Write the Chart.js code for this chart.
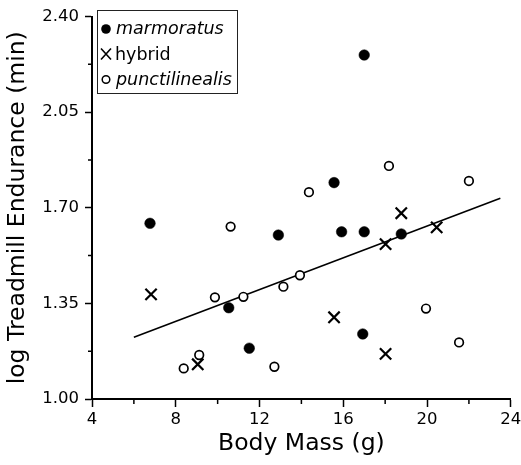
<!DOCTYPE html>
<html>
<head>
<meta charset="utf-8">
<script src="https://cdn.jsdelivr.net/npm/chart.js@4.4.1/dist/chart.umd.min.js"></script>
<style>
  body { margin: 0; background: #fff; }
</style>
</head>
<body>
<canvas id="enduranceChart" width="521" height="465"></canvas>
<script>
// body mass (g) / log endurance (min)
var marmMass = [6.77, 10.53, 11.51, 12.90, 15.56, 15.92, 16.93, 17.00, 17.00, 18.77];
var marmEnd  = [1.643, 1.334, 1.186, 1.600, 1.792, 1.612, 1.238, 1.612, 2.259, 1.604];

var hybMass = [6.82, 9.05, 15.56, 18.02, 18.02, 18.77, 20.46];
var hybEnd  = [1.383, 1.127, 1.299, 1.165, 1.567, 1.680, 1.628];

var puncMass = [8.38, 9.12, 9.87, 10.62, 11.23, 12.71, 13.14, 13.93, 14.36, 18.18, 19.95, 21.53, 22.00];
var puncEnd  = [1.112, 1.161, 1.372, 1.631, 1.374, 1.118, 1.411, 1.453, 1.757, 1.853, 1.331, 1.207, 1.798];

// regression line end points
var fitMass = [6.0, 23.5];
var fitEnd  = [1.226, 1.735];

var xTicks = [4, 8, 12, 16, 20, 24];
var yTicks = [1.00, 1.35, 1.70, 2.05, 2.40];
var xMinor = [6, 10, 14, 18, 22];
var yMinor = [1.175, 1.525, 1.875, 2.225];

var seriesNames = ['marmoratus', 'hybrid', 'punctilinealis'];

function pts(xs, ys) {
    return xs.map(function(x, i) { return { x: x, y: ys[i] }; });
}

var FONT = 'DejaVu Sans';

// minor ticks + the boxed legend (mixed italic, so drawn by hand)
var extras = {
    id: 'extras',
    afterDraw: function(chart) {
        var ctx = chart.ctx;
        var xs = chart.scales.x, ys = chart.scales.y;
        var area = chart.chartArea;
        ctx.save();
        ctx.strokeStyle = '#000';
        ctx.lineWidth = 1.5;
        ctx.beginPath();
        xMinor.forEach(function(v) {
            var px = xs.getPixelForValue(v);
            ctx.moveTo(px, area.bottom);
            ctx.lineTo(px, area.bottom + 5);
        });
        yMinor.forEach(function(v) {
            var py = ys.getPixelForValue(v);
            ctx.moveTo(area.left, py);
            ctx.lineTo(area.left - 4, py);
        });
        ctx.stroke();

        var bx = area.left + 5, by = area.top - 6.5;
        ctx.lineWidth = 1;
        ctx.strokeStyle = '#222';
        ctx.strokeRect(bx + 0.5, by + 0.5, 140, 83);

        var sx = bx + 9, tx = bx + 19;
        var rows = [by + 24, by + 49.5, by + 74.5];
        ctx.fillStyle = '#000';
        // filled dot
        ctx.beginPath();
        ctx.arc(sx, rows[0] - 5, 4.8, 0, Math.PI * 2);
        ctx.fill();
        // cross
        ctx.lineWidth = 1.6;
        ctx.strokeStyle = '#000';
        ctx.beginPath();
        ctx.moveTo(sx - 5, rows[1] - 11); ctx.lineTo(sx + 5, rows[1]);
        ctx.moveTo(sx + 5, rows[1] - 11); ctx.lineTo(sx - 5, rows[1]);
        ctx.stroke();
        // open circle
        ctx.lineWidth = 1.5;
        ctx.beginPath();
        ctx.arc(sx, rows[2] - 5, 3.8, 0, Math.PI * 2);
        ctx.stroke();

        ctx.textBaseline = 'alphabetic';
        ctx.textAlign = 'left';
        ctx.font = 'italic 17.5px "' + FONT + '"';
        ctx.fillText(seriesNames[0], tx, rows[0]);
        ctx.font = '17.5px "' + FONT + '"';
        ctx.fillText(seriesNames[1], tx - 1, rows[1]);
        ctx.font = 'italic 17.5px "' + FONT + '"';
        ctx.fillText(seriesNames[2], tx, rows[2]);
        ctx.restore();
    }
};

var chart = new Chart(document.getElementById('enduranceChart'), {
    type: 'scatter',
    data: {
        datasets: [
            {
                label: seriesNames[0],
                data: pts(marmMass, marmEnd),
                pointStyle: 'circle',
                pointRadius: 5.3,
                backgroundColor: '#000',
                borderColor: '#000',
                borderWidth: 0.5
            },
            {
                label: seriesNames[1],
                data: pts(hybMass, hybEnd),
                pointStyle: 'crossRot',
                pointRadius: 8,
                borderColor: '#000',
                borderWidth: 2.2
            },
            {
                label: seriesNames[2],
                data: pts(puncMass, puncEnd),
                pointStyle: 'circle',
                pointRadius: 4.3,
                backgroundColor: '#fff',
                borderColor: '#000',
                borderWidth: 1.7
            },
            {
                label: 'fit',
                type: 'line',
                data: pts(fitMass, fitEnd),
                showLine: true,
                pointRadius: 0,
                borderColor: '#000',
                borderWidth: 1.6,
                fill: false
            }
        ]
    },
    options: {
        responsive: false,
        animation: false,
        events: [],
        layout: { padding: { top: 16.5, right: 10, left: 0, bottom: 0 } },
        plugins: {
            legend: { display: false },
            tooltip: { enabled: false }
        },
        scales: {
            x: {
                type: 'linear',
                min: 4,
                max: 24,
                afterBuildTicks: function(s) { s.ticks = xTicks.map(function(v) { return { value: v }; }); },
                afterFit: function(s) { s.height = 66; s.paddingRight = 0; s.paddingLeft = 0; },
                ticks: { color: '#000', font: { family: FONT, size: 16.5 }, padding: 3, maxRotation: 0 },
                grid: { drawOnChartArea: false, tickLength: 8, tickWidth: 1.5, tickColor: '#000' },
                border: { color: '#000', width: 2 },
                title: {
                    display: true,
                    text: 'Body Mass (g)',
                    color: '#000',
                    font: { family: FONT, size: 23.5 },
                    padding: { top: 0, bottom: 7 }
                }
            },
            y: {
                type: 'linear',
                min: 1.0,
                max: 2.4,
                afterBuildTicks: function(s) { s.ticks = yTicks.map(function(v) { return { value: v }; }); },
                afterFit: function(s) { s.width = 92; s.paddingTop = 0; s.paddingBottom = 0; },
                ticks: {
                    color: '#000',
                    font: { family: FONT, size: 16.5 },
                    padding: 6,
                    callback: function(v) { return Number(v).toFixed(2); }
                },
                grid: { drawOnChartArea: false, tickLength: 7, tickWidth: 1.5, tickColor: '#000' },
                border: { color: '#000', width: 2 },
                title: {
                    display: true,
                    text: 'log Treadmill Endurance (min)',
                    color: '#000',
                    font: { family: FONT, size: 23.5 },
                    padding: { top: 4, bottom: 0 }
                }
            }
        }
    },
    plugins: [extras]
});
</script>
</body>
</html>
